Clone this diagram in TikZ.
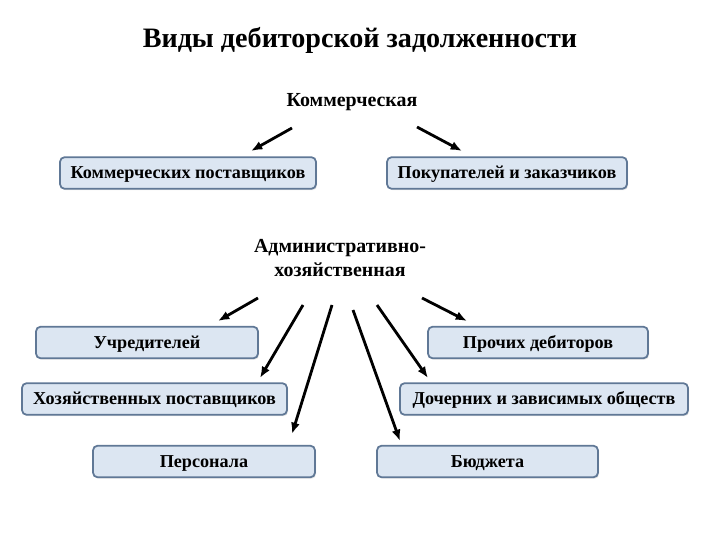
\documentclass[tikz,border=0pt]{standalone}
\usepackage{fontspec}
\setmainfont{Liberation Serif}
\usetikzlibrary{arrows.meta,shadows}
\definecolor{boxfill}{RGB}{220,230,242}
\definecolor{boxline}{RGB}{96,120,150}

\begin{document}
\begin{tikzpicture}[x=0.03cm,y=-0.03cm,>=Latex,
  box/.style={draw=boxline,line width=1.5pt,rounded corners=4pt,fill=boxfill,minimum height=0.95cm,inner sep=2pt,text height=2.4ex,text depth=0.2ex,font=\fontsize{15.5}{18}\selectfont\bfseries,drop shadow={shadow xshift=1pt,shadow yshift=-1.2pt,opacity=0.2}},
  lbl/.style={font=\fontsize{17}{20}\selectfont\bfseries,align=center},
  arr/.style={-{Latex[length=3.4mm,width=2.7mm]},line width=2.4pt}]
\useasboundingbox (0,0) rectangle (720,540);
\node[font=\fontsize{24}{28}\selectfont\bfseries] (title) at (360,40) {Виды дебиторской задолженности};
\node[lbl] (kom) at (352,102) {Коммерческая};
\node[lbl] (adm) at (340,258) {Административно-\\хозяйственная};
\node[box,minimum width=7.68cm] (kp) at (188,173) {Коммерческих поставщиков};
\node[box,minimum width=7.2cm] (pz) at (507,173) {Покупателей и заказчиков};
\node[box,minimum width=6.66cm] (uch) at (147,342.5) {Учредителей};
\node[box,minimum width=7.95cm] (hoz) at (154.5,399) {Хозяйственных поставщиков};
\node[box,minimum width=6.66cm] (per) at (204,461.5) {Персонала};
\node[box,minimum width=6.6cm] (pro) at (538,342.5) {Прочих дебиторов};
\node[box,minimum width=8.64cm] (doch) at (544,399) {Дочерних и зависимых обществ};
\node[box,minimum width=6.63cm] (bud) at (487.5,461.5) {Бюджета};
% free ends of the arrows
\coordinate (k1) at (292,128); \coordinate (k1e) at (251,151);
\coordinate (k2) at (417,127); \coordinate (k2e) at (462,151);
\coordinate (a1) at (258,298); \coordinate (a1e) at (218,321);
\coordinate (a2) at (303,305); \coordinate (a2e) at (260,378);
\coordinate (a3) at (332,305); \coordinate (a3e) at (292,434);
\coordinate (a4) at (353,310); \coordinate (a4e) at (400,441);
\coordinate (a5) at (377,305); \coordinate (a5e) at (428,378);
\coordinate (a6) at (422,298); \coordinate (a6e) at (467,321);
\draw[arr] (k1)--(k1e);
\draw[arr] (k2)--(k2e);
\draw[arr] (a1)--(a1e);
\draw[arr] (a2)--(a2e);
\draw[arr] (a3)--(a3e);
\draw[arr] (a4)--(a4e);
\draw[arr] (a5)--(a5e);
\draw[arr] (a6)--(a6e);
\end{tikzpicture}
\end{document}
